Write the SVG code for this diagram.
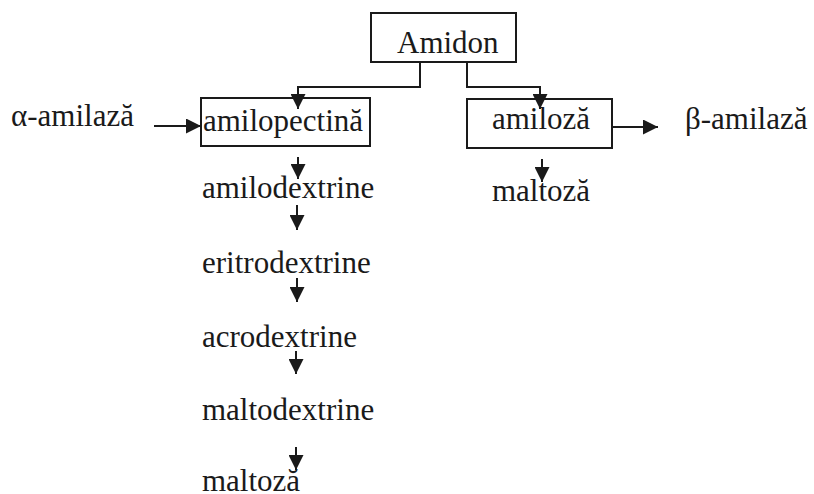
<svg xmlns="http://www.w3.org/2000/svg" width="814" height="494" viewBox="0 0 814 494">
<defs>
<style>
.t{font-family:"Liberation Serif","Times New Roman",serif;font-size:31px;fill:#1a1a1a}
.box{fill:none;stroke:#1a1a1a;stroke-width:2}
.ln{fill:none;stroke:#1a1a1a;stroke-width:2}
</style>
<marker id="ah" viewBox="0 0 15 15" refX="15" refY="7.5" markerWidth="15" markerHeight="15" markerUnits="userSpaceOnUse" orient="auto" preserveAspectRatio="none">
<path d="M0,0 L15,7.5 L0,15 z" fill="#1a1a1a"/>
</marker>
</defs>
<rect width="814" height="494" fill="#fff"/>
<g id="amidon"><rect class="box" x="371" y="13" width="145" height="49"/><text class="t" x="397" y="53">Amidon</text></g>
<g id="amilopectina"><rect class="box" x="201" y="98" width="169" height="48"/><text class="t" x="203" y="131">amilopectină</text></g>
<g id="amiloza"><rect class="box" x="467" y="99" width="145" height="49"/><text class="t" x="492" y="129">amiloză</text></g>
<g id="alfa"><text class="t" x="11" y="126">α-amilază</text></g>
<g id="beta"><text class="t" x="685" y="129">β-amilază</text></g>
<g id="maltoza1"><text class="t" x="492" y="201">maltoză</text></g>
<g id="amilodextrine"><text class="t" x="202" y="198">amilodextrine</text></g>
<g id="eritrodextrine"><text class="t" x="202" y="273">eritrodextrine</text></g>
<g id="acrodextrine"><text class="t" x="202" y="347">acrodextrine</text></g>
<g id="maltodextrine"><text class="t" x="202" y="420">maltodextrine</text></g>
<g id="maltoza2"><text class="t" x="202" y="491">maltoză</text></g>
<g id="connectors">
<path class="ln" d="M420,62 V87 H298 V109" marker-end="url(#ah)"/>
<path class="ln" d="M467,62 V87 H540 V109" marker-end="url(#ah)"/>
<path class="ln" d="M154,126 H201" marker-end="url(#ah)"/>
<path class="ln" d="M612,127 H658" marker-end="url(#ah)"/>
<path class="ln" d="M542,159 V182" marker-end="url(#ah)"/>
<path class="ln" d="M298,157 V179" marker-end="url(#ah)"/>
<path class="ln" d="M297,205 V230" marker-end="url(#ah)"/>
<path class="ln" d="M297,278 V302" marker-end="url(#ah)"/>
<path class="ln" d="M296,351 V374" marker-end="url(#ah)"/>
<path class="ln" d="M296,447 V470" marker-end="url(#ah)"/>
</g>
</svg>
